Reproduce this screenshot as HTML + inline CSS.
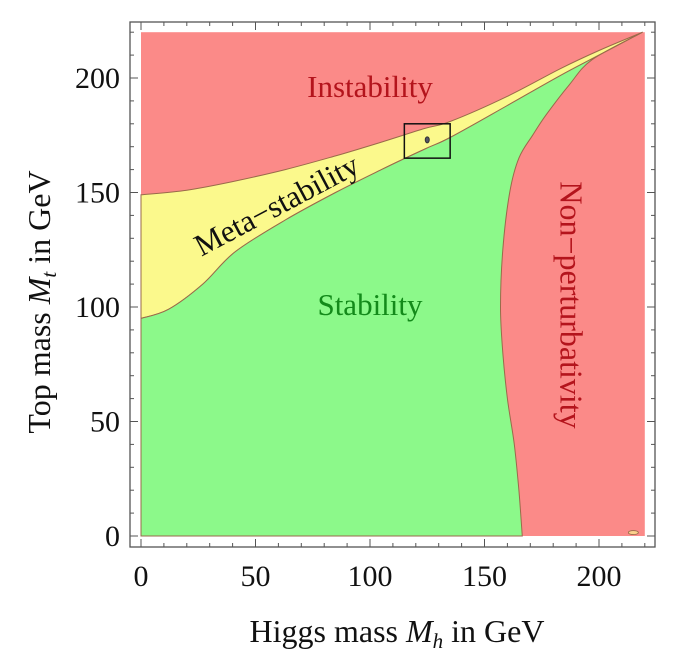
<!DOCTYPE html>
<html><head><meta charset="utf-8"><style>
body{margin:0;background:#fff;}
svg{display:block;font-family:"Liberation Serif",serif;}
</style></head><body>
<svg id="chart" width="681" height="667"></svg>
<script>
const upperX=[0,20,41,63,85,105,124,135,160,183,200,219];
const upperY=[149,151,155,160,166,172,178,181,192,204,212,220];
const lowerX=[0,12,27,41,63,85,105,124,135,160,183,200,219];
const lowerY=[95,99,110,124,138,150,160,169,174,188,201,210,220];
const pertX=[166.5,165,163,160,158,157,158,161,165,171,177,187,197,219];
const pertY=[0,20,40,60,80,100,125,150,165,175,184,197,208,220];
const ticks=[0,50,100,150,200];
const boxX=[115,135], boxY=[165,180];
const NS="http://www.w3.org/2000/svg";
const svg=document.getElementById('chart');
const sx=v=>141+2.29*v, sy=v=>536-2.29*v;
function el(t,a,p){const e=document.createElementNS(NS,t);for(const k in a)e.setAttribute(k,a[k]);(p||svg).appendChild(e);return e;}
function P(xs,ys){return xs.map((x,i)=>[sx(x),sy(ys[i])]);}
function smooth(p){ // catmull-rom segments, assumes already at p[0]
  let d='';
  for(let i=0;i<p.length-1;i++){
    const p0=p[i-1]||p[i],p1=p[i],p2=p[i+1],p3=p[i+2]||p[i+1];
    const c1=[p1[0]+(p2[0]-p0[0])/6,p1[1]+(p2[1]-p0[1])/6];
    const c2=[p2[0]-(p3[0]-p1[0])/6,p2[1]-(p3[1]-p1[1])/6];
    d+=`C${c1[0].toFixed(1)},${c1[1].toFixed(1)} ${c2[0].toFixed(1)},${c2[1].toFixed(1)} ${p2[0].toFixed(1)},${p2[1].toFixed(1)} `;
  }
  return d;
}
const up=P(upperX,upperY), lo=P(lowerX,lowerY), pe=P(pertX,pertY);
const loR=lo.slice().reverse();
let bg=el('rect',{x:sx(0),y:sy(220),width:sx(220)-sx(0),height:sy(0)-sy(220),fill:'#fb8a88'});


let yd=`M${up[0][0]},${up[0][1]} `+smooth(up)+`L${loR[0][0]},${loR[0][1]} `+smooth(loR)+'Z';
let yel=el('path',{d:yd,fill:'#fbf98c',stroke:'#9a6a4a','stroke-width':1});


let gd=`M${sx(0)},${sy(0)} L${pe[0][0]},${pe[0][1]} `+smooth(pe)+`L${loR[0][0]},${loR[0][1]} `+smooth(loR)+'Z';
let gr=el('path',{d:gd,fill:'#8cf98a',stroke:'#9a6a4a','stroke-width':1});


let blob=el('ellipse',{cx:sx(215),cy:sy(1.5),rx:5,ry:2,fill:'#fbd08c',stroke:'#9a6a4a','stroke-width':0.8});


let box=el('rect',{x:sx(boxX[0]),y:sy(boxY[1]),width:sx(boxX[1])-sx(boxX[0]),height:sy(boxY[0])-sy(boxY[1]),fill:'none',stroke:'#111','stroke-width':1.5});


let dot=el('ellipse',{cx:sx(125),cy:sy(173),rx:2,ry:3,fill:'#556',stroke:'#333'});


let fr=el('rect',{x:130,y:22,width:525,height:525,fill:'none',stroke:'#555','stroke-width':1.3});


for(let v=0;v<=220;v+=10){
  const L=(v%50===0)?8:4;
  el('line',{x1:sx(v),x2:sx(v),y1:547,y2:547-L,stroke:'#555'});
  el('line',{x1:sx(v),x2:sx(v),y1:22,y2:22+L,stroke:'#555'});
  el('line',{y1:sy(v),y2:sy(v),x1:130,x2:130+L,stroke:'#555'});
  el('line',{y1:sy(v),y2:sy(v),x1:655,x2:655-L,stroke:'#555'});
}
ticks.forEach(v=>{
  let t=el('text',{x:sx(v),y:586,'font-size':30,'text-anchor':'middle',fill:'#111'});t.textContent=v;
  
  
  let u=el('text',{x:120,y:sy(v)+10,'font-size':30,'text-anchor':'end',fill:'#111'});u.textContent=v;
  
  
});
function lab(txt,x,y,rot,col,name,fs){
  let t=el('text',{x:x,y:y,'font-size':fs,'text-anchor':'middle','dominant-baseline':'middle',fill:col,transform:rot?`rotate(${rot} ${x} ${y})`:''});
  t.textContent=txt;
  
  
  return t;
}
lab('Instability',370,90,0,'#b4141c','instability-label',31);
lab('Stability',370,308,0,'#138a1a','stability-label',31);
lab('Meta\u2212stability',278,208,-28,'#111','meta-stability-label',31);
lab('Non\u2212perturbativity',568,305,90,'#b4141c','non-perturbativity-label',32);
let xa=el('text',{x:397,y:642,'font-size':32,'text-anchor':'middle',fill:'#111'});
xa.innerHTML='Higgs mass <tspan font-style="italic">M</tspan><tspan font-style="italic" font-size="21" dy="6">h</tspan><tspan dy="-6"> in GeV</tspan>';


let ya=el('text',{x:0,y:0,'font-size':32,'text-anchor':'middle',fill:'#111',transform:'translate(50,302) rotate(-90)'});
ya.innerHTML='Top mass <tspan font-style="italic">M</tspan><tspan font-style="italic" font-size="21" dy="6">t</tspan><tspan dy="-6"> in GeV</tspan>';


</script>
</body></html>
